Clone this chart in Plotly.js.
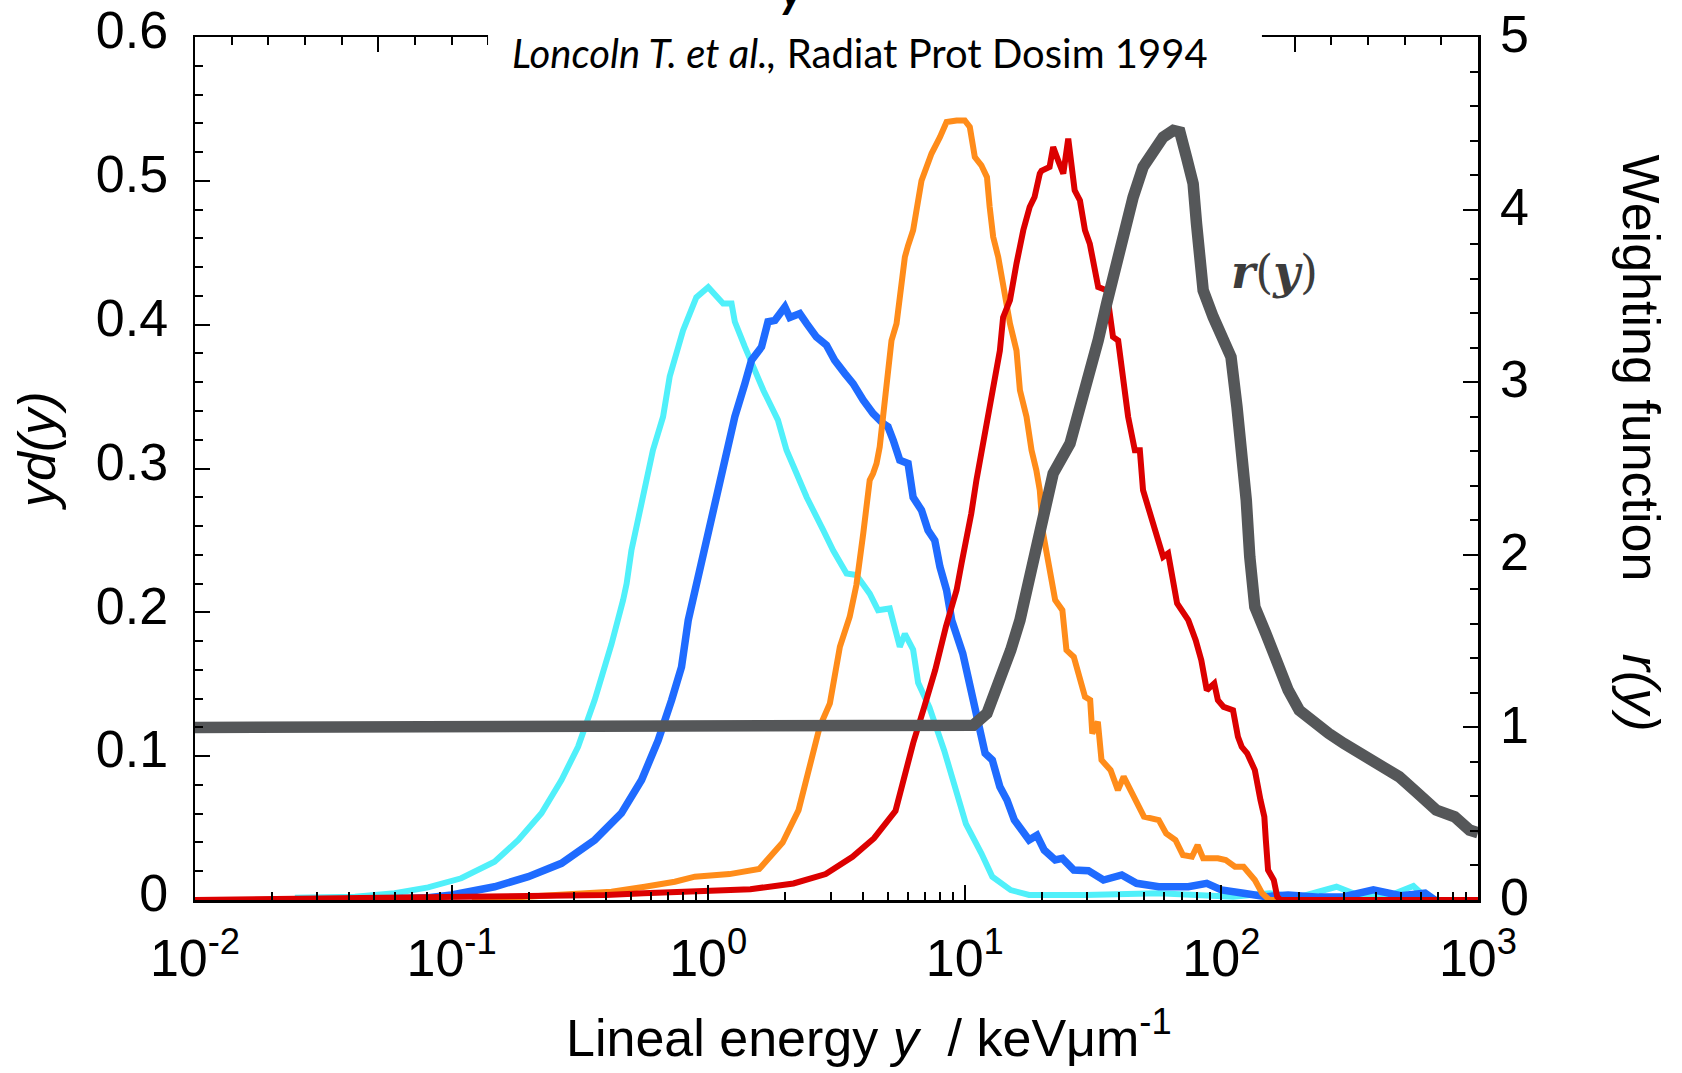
<!DOCTYPE html>
<html>
<head>
<meta charset="utf-8">
<script src="https://cdn.plot.ly/plotly-3.0.1.min.js"></script>
<style>html,body{margin:0;padding:0;background:#fff;}#chart{width:1682px;height:1073px;}</style>
</head>
<body>
<div id="chart"></div>
<script>
// ---- data (lineal energy y in keV/um, yd(y) and r(y)) ----
const cyanX = [0.0245,0.042,0.060,0.081,0.109,0.147,0.182,0.224,0.268,0.311,0.361,0.420,0.466,0.481,0.502,0.541,0.609,0.667,0.708,0.798,0.899,1.00,1.143,1.233,1.27,1.39,1.64,1.87,2.02,2.21,2.42,2.81,3.07,3.46,3.78,4.26,4.59,5.10,5.58,5.84,6.29,6.58,7.28,8.31,9.18,10.1,11.6,12.8,15.1,17.8,29.4,57,111,154,200,281,354,450,560,622,680];
const cyanY = [0.0016,0.0023,0.0047,0.0088,0.0151,0.0266,0.0417,0.0603,0.0834,0.1065,0.139,0.178,0.2085,0.220,0.243,0.271,0.3127,0.336,0.364,0.396,0.419,0.426,0.4147,0.4147,0.402,0.3845,0.3544,0.3336,0.3127,0.2965,0.280,0.257,0.243,0.227,0.226,0.213,0.2015,0.2027,0.176,0.185,0.174,0.151,0.134,0.104,0.076,0.053,0.0325,0.0162,0.0069,0.0035,0.0035,0.0047,0.0023,0.0047,0.002,0.0092,0.0023,0.003,0.0097,0.0023,0];

const blueX = [0.042,0.081,0.100,0.147,0.199,0.268,0.361,0.459,0.550,0.638,0.720,0.787,0.836,0.899,0.984,1.061,1.127,1.213,1.27,1.39,1.475,1.614,1.71,1.82,1.99,2.08,2.275,2.42,2.64,2.89,3.11,3.41,3.67,4.02,4.39,4.81,5.02,5.26,5.58,6.01,6.29,6.78,7.19,7.64,8.00,8.49,8.89,9.82,10.7,11.4,12.0,12.8,13.7,14.6,15.6,17.8,19.1,20.4,22.5,24.0,26.6,30.3,34.7,40.9,46.7,57.0,74.3,87.7,100,122,149,182,240,300,391,500,622,680];
const blueY = [0,0.0016,0.0035,0.0092,0.0162,0.0255,0.0417,0.0603,0.0834,0.111,0.139,0.162,0.1946,0.220,0.248,0.2757,0.2965,0.322,0.336,0.359,0.3753,0.3845,0.402,0.403,0.4123,0.405,0.4077,0.4007,0.3915,0.3857,0.3753,0.366,0.359,0.3475,0.3382,0.3313,0.329,0.3197,0.3058,0.3035,0.280,0.271,0.257,0.250,0.2316,0.2154,0.1946,0.1714,0.1436,0.118,0.102,0.0973,0.0787,0.0695,0.0556,0.0417,0.045,0.0347,0.0278,0.029,0.0208,0.0204,0.0139,0.0174,0.0116,0.0092,0.0092,0.0116,0.007,0.0047,0.0023,0.0035,0.002,0.0023,0.007,0.003,0.0047,0];

const orangeX = [0.12,0.199,0.293,0.420,0.566,0.741,0.887,1.21,1.58,1.95,2.25,2.56,2.72,2.98,3.26,3.56,3.78,4.02,4.14,4.26,4.39,4.53,4.66,4.81,4.95,5.18,5.42,5.67,5.84,6.01,6.29,6.78,7.42,8.00,8.49,9.29,10.0,10.46,10.94,11.6,12.2,12.5,12.9,13.5,14.3,15.0,15.9,16.4,17.4,18.2,19.0,19.6,20.2,21.4,22.5,24.0,24.9,26.6,29.4,30.8,31.4,33.0,34.1,37.0,39.5,41.6,45.9,49.9,57.0,60.9,66.2,70.8,76.8,80.8,84.9,96.9,104,113,122,135,144,154,200];
const orangeY = [0,0.0023,0.0047,0.0058,0.0092,0.0127,0.0162,0.018,0.0215,0.040,0.0625,0.104,0.1204,0.1367,0.176,0.1969,0.219,0.2548,0.271,0.2919,0.2965,0.3035,0.315,0.336,0.3637,0.389,0.4007,0.43,0.447,0.455,0.4656,0.500,0.519,0.5304,0.5409,0.542,0.542,0.5374,0.5165,0.5108,0.5026,0.4818,0.461,0.447,0.419,0.4007,0.382,0.3544,0.336,0.3127,0.2988,0.2849,0.2548,0.2293,0.2085,0.2015,0.1737,0.169,0.1413,0.139,0.1158,0.1239,0.0973,0.0903,0.0764,0.0857,0.0718,0.0579,0.0556,0.0463,0.0417,0.0313,0.0301,0.0382,0.029,0.029,0.0278,0.0231,0.0231,0.0139,0.0047,0,0];

const redX = [0.01,0.156,0.28,0.40,0.56,0.79,1.0,1.46,2.15,2.87,3.65,4.43,5.37,6.29,6.97,7.67,8.44,9.29,9.71,10.15,10.6,11.1,11.8,12.5,13.3,13.7,14.1,15.0,15.9,16.9,17.9,18.7,19.6,19.9,21.4,22.1,23.1,24.2,25.3,26.1,26.8,28.1,29.4,30.7,32.1,33.1,35.7,37.8,39.6,41.4,43.3,46.0,48.1,49.5,52.6,56.6,59.3,62.0,63.9,67.2,74.3,79.4,83.5,87.7,93.8,96.9,102,111,116,120,126,135,142,147,149,152,160,165,170,1000];
const redY = [0,0.002,0.003,0.0035,0.0047,0.0058,0.0065,0.0075,0.0115,0.018,0.030,0.043,0.062,0.109,0.135,0.16,0.19,0.2154,0.234,0.250,0.2687,0.2919,0.3174,0.3405,0.366,0.382,0.405,0.417,0.4425,0.4656,0.4818,0.4887,0.505,0.507,0.5096,0.5235,0.5142,0.505,0.5293,0.505,0.4934,0.4864,0.4656,0.4563,0.4355,0.4262,0.4239,0.3915,0.389,0.3614,0.336,0.3127,0.3127,0.2849,0.2687,0.2525,0.2386,0.241,0.2293,0.2062,0.1946,0.1807,0.1668,0.1459,0.1506,0.139,0.1343,0.132,0.1135,0.1065,0.102,0.0903,0.0695,0.0579,0.0417,0.0208,0.0139,0.0023,0,0];

const grayX = [0.01,9.8,10.8,12.2,12.8,13.7,15.1,16.4,17.4,18.7,20.2,22.1,25.7,28.1,30.7,33.1,35.7,38.4,41.4,45.3,49.5,54.2,59.3,64.9,68.9,73.1,77.6,80.0,82.4,84.9,92.9,103,109,115,118,122,125,129,133,135,149,165,182,201,230,262,300,354,418,493,582,687,811,927,1000];
const grayR = [1.0,1.0,1.013,1.081,1.158,1.293,1.448,1.621,1.795,2.027,2.219,2.471,2.644,2.837,3.050,3.243,3.455,3.667,3.880,4.072,4.246,4.343,4.420,4.459,4.449,4.304,4.150,3.918,3.60,3.532,3.378,3.243,3.146,2.856,2.702,2.374,2.316,1.988,1.76,1.698,1.544,1.351,1.216,1.100,1.023,0.965,0.907,0.849,0.772,0.714,0.618,0.521,0.482,0.405,0.39];

// ---- tick labels ----
const xTickVals = [0.01,0.1,1,10,100,1000];
const xTickText = ['10<sup>-2</sup>','10<sup>-1</sup>','10<sup>0</sup>','10<sup>1</sup>','10<sup>2</sup>','10<sup>3</sup>'];
const yTickVals = [0,0.1,0.2,0.3,0.4,0.5,0.6];
const yTickText = ['0','0.1','0.2','0.3','0.4','0.5','0.6'];
const y2TickVals = [0,1,2,3,4,5];
const y2TickText = ['0','1','2','3','4','5'];

const xMinor = [];
[0.01,0.1,1,10,100].forEach(d => { for (let k = 2; k <= 9; k++) xMinor.push(+(k*d).toPrecision(3)); });

const FONT = 'Liberation Sans, Arial, sans-serif';
const tickFont = {family: FONT, size: 52, color: '#000'};

function line(x, y, color, width, yaxis) {
  return {x: x, y: y, type: 'scatter', mode: 'lines', line: {color: color, width: width},
          yaxis: yaxis || 'y', hoverinfo: 'skip', showlegend: false, cliponaxis: false};
}

const traces = [
  line(cyanX, cyanY, '#50F0FA', 6),
  line(blueX, blueY, '#1F6BFF', 7.5),
  line(orangeX, orangeY, '#FF8C1A', 6),
  line(redX, redY, '#DC0000', 6),
  {x: [0, 7], y: [null, null], xaxis: 'x2', yaxis: 'y', type: 'scatter', mode: 'lines', hoverinfo: 'skip', showlegend: false},
  line(grayX, grayR, '#555759', 11.5, 'y2')
];

const axisCommon = {showline: true, linecolor: '#000', linewidth: 2.5, ticks: 'inside', ticklen: 15,
                    tickwidth: 2, tickcolor: '#000', showgrid: false, zeroline: false};

const layout = {
  width: 1682, height: 1073, autosize: false,
  margin: {l: 195, r: 204, t: 37, b: 173, pad: 0},
  paper_bgcolor: '#fff', plot_bgcolor: '#fff',
  showlegend: false,
  xaxis: Object.assign({}, axisCommon, {
    type: 'log', range: [-2, 3], tickmode: 'array', tickvals: xTickVals, ticktext: xTickText,
    tickfont: tickFont, ticklabelstandoff: 11,
    minor: {tickmode: 'array', tickvals: xMinor, ticks: 'inside', ticklen: 8, tickwidth: 2, tickcolor: '#000'}
  }),
  xaxis2: Object.assign({}, axisCommon, {
    overlaying: 'x', side: 'top', anchor: 'y', range: [0, 7], dtick: 1, tick0: 0, showticklabels: false,
    minor: {dtick: 0.2, ticks: 'inside', ticklen: 8, tickwidth: 2, tickcolor: '#000'}
  }),
  yaxis: Object.assign({}, axisCommon, {
    range: [0, 0.6], tickmode: 'array', tickvals: yTickVals, ticktext: yTickText,
    tickfont: tickFont, ticklabelstandoff: 14, ticklabelshift: -7,
    minor: {dtick: 0.02, tick0: 0, ticks: 'inside', ticklen: 8, tickwidth: 2, tickcolor: '#000'}
  }),
  yaxis2: Object.assign({}, axisCommon, {
    overlaying: 'y', side: 'right', anchor: 'x', range: [0, 5], tickmode: 'array', tickvals: y2TickVals, ticktext: y2TickText,
    tickfont: tickFont, ticklabelstandoff: 9, ticklabelshift: -3,
    minor: {dtick: 0.2, tick0: 0, ticks: 'inside', ticklen: 8, tickwidth: 2, tickcolor: '#000'}
  }),
  shapes: [
    {type: 'rect', xref: 'paper', yref: 'paper', x0: 0.2284, x1: 0.8316, y0: 0.975, y1: 1.06,
     fillcolor: '#fff', line: {width: 0}, layer: 'above'}
  ],
  annotations: [
    {xref: 'paper', yref: 'paper', x: -0.1227, y: 0.521, text: '<i>yd(y)</i>', textangle: -90,
     showarrow: false, font: {family: FONT, size: 52, color: '#000'}, xanchor: 'center', yanchor: 'middle'},
    {xref: 'paper', yref: 'paper', x: 0.525, y: -0.155, text: 'Lineal energy <i>y</i>\u00a0 / keV\u03bcm<sup>-1</sup>',
     showarrow: false, font: {family: FONT, size: 52, color: '#000'}, xanchor: 'center', yanchor: 'middle'},
    {xref: 'paper', yref: 'paper', x: 1.127, y: 0.529, text: 'Weighting function\u00a0\u00a0\u00a0\u00a0\u00a0<i>r(y)</i>', textangle: 90,
     showarrow: false, font: {family: FONT, size: 52, color: '#000'}, xanchor: 'center', yanchor: 'middle'},
    {xref: 'paper', yref: 'paper', x: 0.518, y: 0.981, text: '<i>Loncoln T. et al.,</i> Radiat Prot Dosim 1994',
     showarrow: false, font: {family: 'Lato, Open Sans, sans-serif', size: 40, color: '#000'}, xanchor: 'center', yanchor: 'middle'},
    {xref: 'paper', yref: 'paper', x: 0.841, y: 0.728, text: '<b><i>r</i></b>(<b><i>y</i></b>)',
     showarrow: false, font: {family: 'DejaVu Serif, serif', size: 46, color: '#3c3c3c'}, xanchor: 'center', yanchor: 'middle'},
    {xref: 'paper', yref: 'paper', x: 0.466, y: 1.021, text: '<b><i>y</i></b>',
     showarrow: false, font: {family: 'Lato, Open Sans, sans-serif', size: 48, color: '#000'}, xanchor: 'center', yanchor: 'bottom'}
  ]
};

Plotly.newPlot('chart', traces, layout, {displayModeBar: false, staticPlot: true});
</script>
</body>
</html>
